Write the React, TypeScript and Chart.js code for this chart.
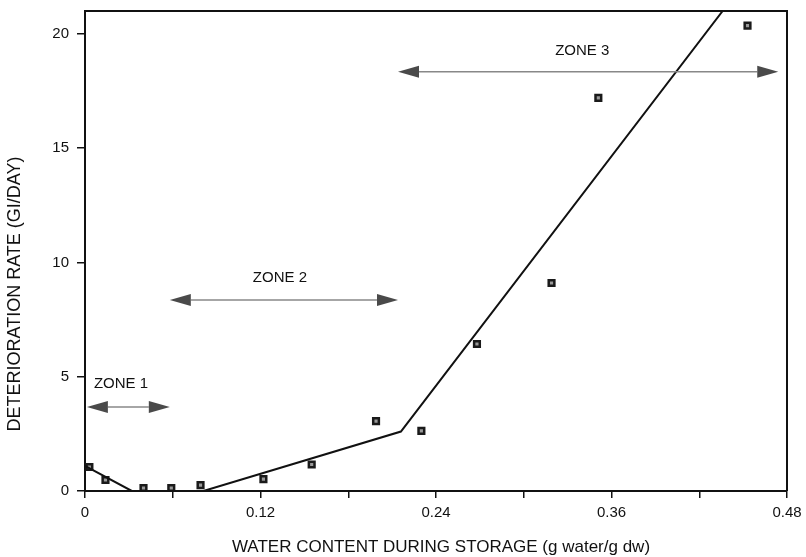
import React, { useEffect, useRef } from "react";
import { Chart, registerables } from "chart.js";

Chart.register(...registerables);

// Measured data points (water content g/g dw, deterioration rate GI/day)
const waterContent = [0.003, 0.014, 0.04, 0.059, 0.079, 0.122, 0.155, 0.199, 0.23, 0.268, 0.319, 0.351, 0.453];
const deteriorationRate = [1.05, 0.48, 0.13, 0.13, 0.26, 0.52, 1.16, 3.06, 2.63, 6.43, 9.1, 17.2, 20.36];

// Fitted piecewise line
const fitX = [0, 0.032, 0.081, 0.216, 0.436];
const fitY = [1.1, 0, 0, 2.6, 21];

// Zone annotations (data units)
const zoneLabels = ["ZONE 1", "ZONE 2", "ZONE 3"];
const zoneStartX = [0.0013, 0.058, 0.214];
const zoneEndX = [0.058, 0.214, 0.474];
const zoneArrowY = [3.68, 8.36, 18.34];
const zoneLabelX = [0.0246, 0.1333, 0.34];
const zoneLabelY = [4.68, 9.32, 19.26];

const xTitle = "WATER CONTENT DURING STORAGE (g water/g dw)";
const yTitle = "DETERIORATION RATE (GI/DAY)";

const FONT = "'Liberation Sans', Arial, Helvetica, sans-serif";
const TEXT = "#111";

const overlayPlugin = {
  id: "overlay",
  afterDatasetsDraw(chart: any) {
    const { ctx, chartArea, scales } = chart;
    const xs = scales.x;
    const ys = scales.y;
    ctx.save();
    // box top & right
    ctx.strokeStyle = "#111";
    ctx.lineWidth = 2;
    ctx.beginPath();
    ctx.moveTo(chartArea.left, chartArea.top);
    ctx.lineTo(chartArea.right, chartArea.top);
    ctx.lineTo(chartArea.right, chartArea.bottom);
    ctx.stroke();

    // zone arrows
    for (let i = 0; i < zoneLabels.length; i++) {
      const x1 = xs.getPixelForValue(zoneStartX[i]);
      const x2 = xs.getPixelForValue(zoneEndX[i]);
      const y = ys.getPixelForValue(zoneArrowY[i]);
      const hl = 21;
      const hh = 6;
      ctx.strokeStyle = "#888";
      ctx.lineWidth = 1.5;
      ctx.beginPath();
      ctx.moveTo(x1 + hl, y);
      ctx.lineTo(x2 - hl, y);
      ctx.stroke();
      ctx.fillStyle = "#4a4a4a";
      ctx.beginPath();
      ctx.moveTo(x1, y);
      ctx.lineTo(x1 + hl, y - hh);
      ctx.lineTo(x1 + hl, y + hh);
      ctx.closePath();
      ctx.fill();
      ctx.beginPath();
      ctx.moveTo(x2, y);
      ctx.lineTo(x2 - hl, y - hh);
      ctx.lineTo(x2 - hl, y + hh);
      ctx.closePath();
      ctx.fill();

      ctx.fillStyle = TEXT;
      ctx.font = `15px ${FONT}`;
      ctx.textAlign = "center";
      ctx.textBaseline = "middle";
      ctx.fillText(zoneLabels[i], xs.getPixelForValue(zoneLabelX[i]), ys.getPixelForValue(zoneLabelY[i]));
    }

    // axis titles
    ctx.fillStyle = TEXT;
    ctx.font = `17px ${FONT}`;
    ctx.textAlign = "center";
    ctx.textBaseline = "middle";
    ctx.fillText(xTitle, 441, 547);
    ctx.font = `18px ${FONT}`;
    ctx.translate(15, 294);
    ctx.rotate(-Math.PI / 2);
    ctx.fillText(yTitle, 0, 0);
    ctx.restore();
  },
};

export default function App() {
  const ref = useRef<HTMLCanvasElement>(null);
  useEffect(() => {
    document.body.style.margin = "0";
    const canvas = ref.current!;
    const chart = new Chart(canvas, {
      type: "scatter",
      data: {
        datasets: [
          {
            label: "Fit",
            data: fitX.map((x, i) => ({ x, y: fitY[i] })),
            showLine: true,
            borderColor: "#111",
            borderWidth: 2,
            pointRadius: 0,
            fill: false,
            tension: 0,
          } as any,
          {
            label: "Measured",
            data: waterContent.map((x, i) => ({ x, y: deteriorationRate[i] })),
            pointStyle: "rect",
            pointRadius: 4,
            borderColor: "#1a1a1a",
            borderWidth: 2.5,
            backgroundColor: "#999",
            showLine: false,
          } as any,
        ],
      },
      options: {
        responsive: false,
        animation: false,
        layout: { padding: { top: 11, right: 19, bottom: 0, left: 0 } },
        plugins: { legend: { display: false }, tooltip: { enabled: false } },
        scales: {
          x: {
            type: "linear",
            min: 0,
            max: 0.48,
            afterFit: (s: any) => {
              s.height = 66;
              s.paddingLeft = 0;
              s.paddingRight = 0;
            },
            border: { display: true, color: "#111", width: 2 },
            grid: { display: true, drawOnChartArea: false, drawTicks: true, tickLength: 7, color: "#111", lineWidth: 1.5 },
            ticks: {
              stepSize: 0.06,
              includeBounds: false,
              padding: 6,
              color: TEXT,
              font: { family: FONT, size: 15 },
              maxRotation: 0,
              autoSkip: false,
              callback: (v: any) => {
                const k = Math.round(Number(v) / 0.06);
                if (k % 2 !== 0) return "";
                const val = Math.round(k * 6) / 100;
                return val === 0 ? "0" : String(val);
              },
            },
          },
          y: {
            type: "linear",
            min: 0,
            max: 21,
            afterFit: (s: any) => {
              s.width = 85;
              s.paddingTop = 0;
              s.paddingBottom = 0;
            },
            border: { display: true, color: "#111", width: 2 },
            grid: { display: true, drawOnChartArea: false, drawTicks: true, tickLength: 8, color: "#111", lineWidth: 1.5 },
            ticks: {
              stepSize: 5,
              includeBounds: false,
              padding: 8,
              color: TEXT,
              font: { family: FONT, size: 15 },
            },
          },
        },
      } as any,
      plugins: [overlayPlugin],
    });
    return () => chart.destroy();
  }, []);
  return (
    <div style={{ position: "absolute", left: 0, top: 0, width: 806, height: 557 }}>
      <canvas ref={ref} width={806} height={557} style={{ display: "block", width: 806, height: 557 }} />
    </div>
  );
}
